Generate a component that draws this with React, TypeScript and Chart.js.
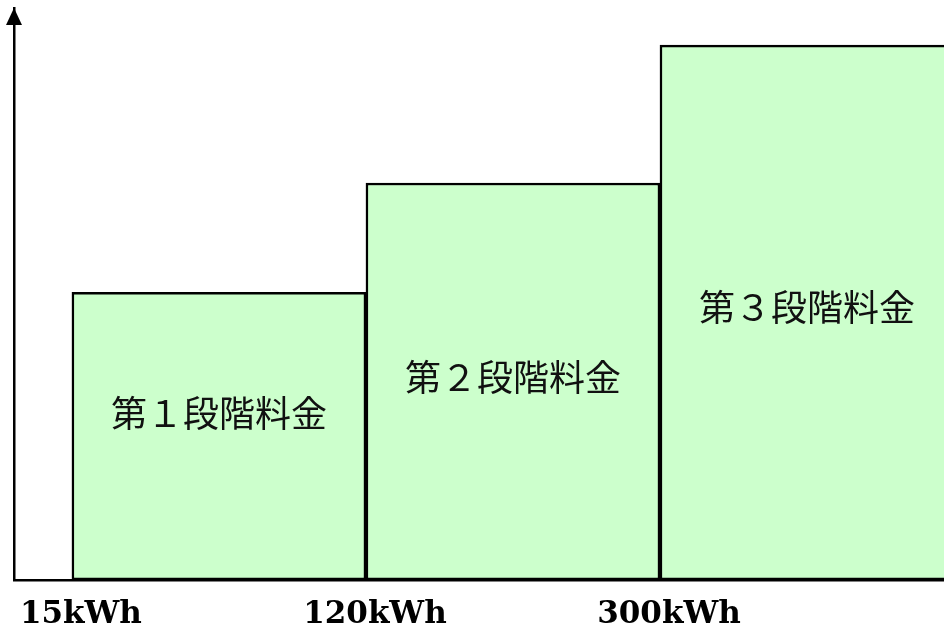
import React, { useEffect, useRef } from 'react';
import { Chart, registerables } from 'chart.js';

Chart.register(...registerables);

// Data
const categories = ['第１段階料金', '第２段階料金', '第３段階料金'];
const tickLabels = ['15kWh', '120kWh', '300kWh'];
const stepCenters = [0.5, 1.5, 2.5];
const charges = [50.3, 69.4, 93.5];
const labelFractions = [0.58, 0.51, 0.51];

const decorations = {
  id: 'decorations',
  afterDatasetsDraw(chart: any) {
    const ctx = chart.ctx;
    const meta = chart.getDatasetMeta(0);
    ctx.save();
    ctx.font = '36px "Noto Sans CJK JP"';
    ctx.fillStyle = '#111111';
    ctx.textAlign = 'center';
    ctx.textBaseline = 'middle';
    meta.data.forEach((bar: any, i: number) => {
      const p = bar.getProps(['x', 'y', 'base'], true);
      const ty = p.base - (p.base - p.y) * labelFractions[i];
      ctx.fillText(categories[i], p.x, ty);
    });
    ctx.restore();
  },
  afterDraw(chart: any) {
    const ctx = chart.ctx;
    const { left, top } = chart.chartArea;
    ctx.save();
    ctx.fillStyle = '#000000';
    ctx.beginPath();
    ctx.moveTo(left, top);
    ctx.lineTo(left - 8, top + 17);
    ctx.lineTo(left + 8, top + 17);
    ctx.closePath();
    ctx.fill();
    ctx.restore();
  },
};

export default function App() {
  const ref = useRef<HTMLCanvasElement>(null);
  useEffect(() => {
    if (!ref.current) return;
    const chart = new Chart(ref.current, {
      type: 'bar',
      data: {
        datasets: [
          {
            data: stepCenters.map((x, i) => ({ x, y: charges[i] })),
            backgroundColor: '#CCFFCC',
            borderColor: '#000000',
            borderWidth: 2.5,
            borderSkipped: false,
            barPercentage: 1,
            categoryPercentage: 1,
          },
        ],
      },
      options: {
        animation: false,
        responsive: true,
        maintainAspectRatio: false,
        layout: { padding: { left: 14, top: 8, right: 0, bottom: 0 } },
        plugins: { legend: { display: false }, tooltip: { enabled: false }, title: { display: false } },
        scales: {
          x: {
            type: 'linear',
            offset: false,
            min: -0.197,
            max: 2.966,
            afterBuildTicks: (axis: any) => {
              axis.ticks = tickLabels.map((_, i) => ({ value: i }));
            },
            grid: { display: false, drawTicks: false },
            border: { display: true, color: '#000000', width: 2.5 },
            ticks: {
              autoSkip: false,
              maxRotation: 0,
              padding: 0,
              labelOffset: 9,
              color: '#000000',
              font: { family: '"DejaVu Serif"', weight: 'bold', size: 31, lineHeight: 2.26 },
              callback: (v: any) => tickLabels[v as number] ?? '',
            },
          },
          y: {
            min: 0,
            max: 100,
            grid: { display: false, drawTicks: false },
            border: { display: true, color: '#000000', width: 2.5 },
            ticks: { display: false },
          },
        },
      },
      plugins: [decorations],
    });
    return () => chart.destroy();
  }, []);
  return (
    <div style={{ position: 'absolute', left: 0, top: 0, width: 944, height: 631, overflow: 'hidden', background: '#ffffff' }}>
      <div style={{ position: 'relative', width: 944, height: 650 }}>
        <canvas ref={ref} />
      </div>
    </div>
  );
}
